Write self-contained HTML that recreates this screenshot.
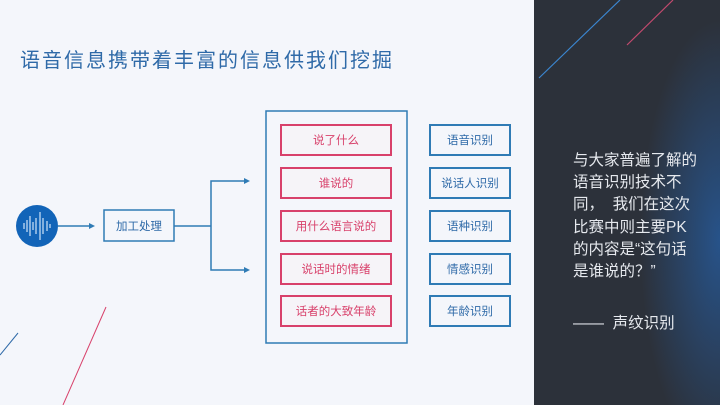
<!DOCTYPE html>
<html><head><meta charset="utf-8"><style>
body{margin:0;width:720px;height:405px;overflow:hidden;background:#f4f6fb;font-family:"Liberation Sans","Noto Sans CJK SC",sans-serif;position:relative}
.t{position:absolute;left:20px;top:44px;font-size:20px;color:#2f6aa8;white-space:nowrap;letter-spacing:2px}
.panel{position:absolute;left:534px;top:0;width:186px;height:405px;background:radial-gradient(ellipse 80px 220px at 186px 240px,#27538a 0%,rgba(43,47,56,0) 100%),#2c313a}
.q{position:absolute;left:573px;top:150px;width:150px;font-size:15.5px;line-height:22.2px;color:#e6e9ee;white-space:nowrap}
.s{position:absolute;left:573px;top:311px;font-size:15.5px;color:#e6e9ee;white-space:nowrap}
.b{position:absolute;box-sizing:border-box;display:flex;align-items:center;justify-content:center;font-size:11.5px}
.p{border:2px solid #d8416b;color:#d8416b;left:280px;width:112px;height:32px;background:#f6f4f8}
.c{border:2px solid #2f7bb5;color:#2f6aa8;left:429px;width:82px;height:32px}
</style></head><body>
<div class="t">语音信息携带着丰富的信息供我们挖掘</div>
<svg width="720" height="405" style="position:absolute;left:0;top:0">
<line x1="0" y1="355" x2="18" y2="333" stroke="#2f6aa8" stroke-width="1"/>
<line x1="63" y1="405" x2="106" y2="307" stroke="#d8416b" stroke-width="1"/>
<circle cx="37" cy="226" r="21" fill="#1264b8"/>
<g stroke="#cfe2f7" stroke-width="1.2">
<line x1="24" y1="223" x2="24" y2="229"/><line x1="27" y1="220" x2="27" y2="232"/><line x1="30" y1="216" x2="30" y2="236"/>
<line x1="33" y1="222" x2="33" y2="230"/><line x1="36" y1="218" x2="36" y2="234"/><line x1="40" y1="212" x2="40" y2="240"/>
<line x1="43" y1="218" x2="43" y2="234"/><line x1="47" y1="221" x2="47" y2="231"/><line x1="50" y1="224" x2="50" y2="228"/></g>
<g stroke="#2f7bb5" stroke-width="1.5" fill="none">
<line x1="58" y1="226" x2="93" y2="226"/>
<rect x="104" y="210" width="70" height="31"/>
<polyline points="174,226 211,226"/>
<polyline points="247,181 211,181 211,270 247,270"/>
<rect x="266" y="111" width="141" height="232"/>
</g>
<g fill="#2f7bb5"><polygon points="95,226 89,223 89,229"/><polygon points="250,181 244,178 244,184"/><polygon points="250,270 244,267 244,273"/></g>
<text x="139" y="230" font-size="11.5" fill="#2f6aa8" text-anchor="middle" font-family="Liberation Sans,Noto Sans CJK SC,sans-serif">加工处理</text>
</svg>
<div class="b p" style="top:124px">说了什么</div>
<div class="b p" style="top:167px">谁说的</div>
<div class="b p" style="top:210px">用什么语言说的</div>
<div class="b p" style="top:253px">说话时的情绪</div>
<div class="b p" style="top:295px">话者的大致年龄</div>
<div class="b c" style="top:124px">语音识别</div>
<div class="b c" style="top:167px">说话人识别</div>
<div class="b c" style="top:210px">语种识别</div>
<div class="b c" style="top:253px">情感识别</div>
<div class="b c" style="top:295px">年龄识别</div>
<div class="panel"></div>
<svg width="720" height="405" style="position:absolute;left:0;top:0">
<line x1="539" y1="78" x2="620" y2="0" stroke="#3b86d0" stroke-width="1.2"/>
<line x1="627" y1="45" x2="673" y2="0" stroke="#c24a6e" stroke-width="1.2"/>
</svg>
<div class="q">与大家普遍了解的<br>语音识别技术不<br>同，&nbsp; 我们在这次<br>比赛中则主要PK<br>的内容是“这句话<br>是谁说的？”</div>
<div class="s">——&nbsp; 声纹识别</div>
</body></html>
